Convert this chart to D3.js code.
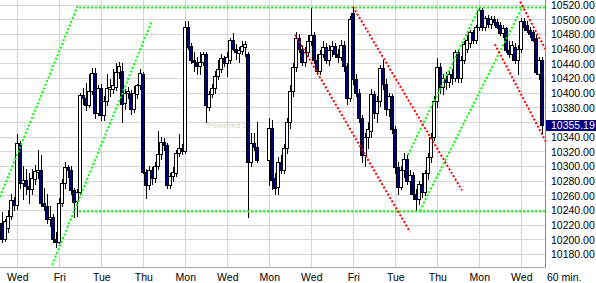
<!DOCTYPE html>
<html>
<head>
<meta charset="utf-8">
<script src="https://cdn.jsdelivr.net/npm/d3@7"></script>
<style>
  body { margin: 0; background: #fff; }
  svg { display: block; font-family: "Liberation Sans", Arial, sans-serif; }
</style>
</head>
<body>
<div id="chart"></div>
<script>
// Data - 60 min bars, null = missing bar
const opens = [
  10222,10200,10215,10232,10254,10247,10331,10277,10281,10273,
  10268,10282,10292,10294,10250,10245,10228,10230,10200,10197,
  10250,10277,10298,10294,10267,10252,10265,10397,10393,10383,
  10402,10427,10372,10406,10370,10388,10405,10405,10408,10428,
  10430,10386,10400,10400,10378,10398,10410,10425,10292,10274,
  10295,10283,10300,10316,10333,10328,10274,10286,10290,10318,
  10325,10320,10490,10464,10444,10442,10436,10442,10452,10380,
  10398,10406,10423,10432,10447,10440,10445,10472,10460,10454,
  10457,10462,10452,10305,10331,10326,null,null,null,10308,
  10352,10283,10272,10306,10295,10325,10360,10402,10435,10475,
  10460,10442,10456,10470,10478,10445,10430,10452,10462,10445,
  10458,10464,10452,10448,10465,10436,10392,10508,10418,10400,
  10365,10315,10340,10348,10398,10372,10388,10434,10412,10378,
  10395,10350,10298,10272,10295,10310,10280,10288,10262,10255,
  10275,10265,10290,10312,10340,10388,10435,10408,10420,10415,
  10426,10420,10455,10420,10445,10460,10468,10482,10472,10490,
  10512,10490,10502,10494,10500,10496,10492,10481,10488,10458,
  10452,10462,10445,10460,10498,10492,10485,10482,10474,10425,
  10444
]
const highs = [
  10237,10228,10240,10262,10258,10343,10334,10300,10296,10290,
  10296,10302,10322,10315,10270,10262,10245,10235,10210,10256,
  10282,10305,10302,10300,10270,10268,10400,10406,10413,10426,
  10433,10433,10410,10412,10395,10425,10418,10432,10440,10442,
  10440,10405,10408,10404,10409,10412,10432,10428,10296,10300,
  10298,10305,10348,10340,10338,10332,10290,10298,10322,10344,
  10330,10497,10497,10468,10455,10448,10455,10455,10455,10402,
  10412,10430,10445,10452,10450,10455,10475,10481,10466,10462,
  10470,10470,10456,10345,10345,10360,null,null,null,10365,
  10362,10290,10312,10315,10330,10365,10410,10440,10482,10480,
  10465,10462,10478,10515,10482,10452,10458,10470,10468,10465,
  10470,10468,10460,10472,10470,10440,10505,10516,10425,10405,
  10370,10345,10360,10405,10402,10395,10438,10444,10418,10400,
  10398,10355,10305,10300,10318,10315,10295,10292,10268,10280,
  10290,10295,10318,10345,10395,10447,10440,10425,10428,10430,
  10432,10458,10458,10450,10470,10478,10486,10486,10492,10516,
  10516,10505,10506,10505,10504,10500,10496,10492,10490,10470,
  10470,10468,10465,10502,10502,10498,10490,10486,10478,10448,
  10448
]
const lows = [
  10197,10198,10210,10228,10240,10242,10270,10255,10262,10250,
  10262,10276,10284,10245,10240,10222,10218,10196,10190,10195,
  10245,10270,10285,10262,10231,10232,10262,10385,10376,10380,
  10398,10365,10370,10362,10362,10383,10395,10400,10404,10420,
  10360,10378,10392,10371,10374,10392,10405,10290,10256,10268,
  10275,10278,10296,10310,10322,10270,10270,10280,10286,10314,
  10316,10318,10460,10440,10430,10425,10425,10438,10360,10376,
  10394,10400,10418,10428,10436,10422,10440,10458,10446,10442,
  10452,10450,10230,10300,10322,10305,null,null,null,10274,
  10268,10262,10262,10290,10290,10318,10352,10396,10430,10455,
  10438,10436,10450,10465,10440,10425,10425,10448,10440,10438,
  10450,10448,10442,10444,10430,10385,10388,10412,10395,10360,
  10305,10300,10325,10340,10365,10360,10382,10405,10370,10368,
  10345,10290,10262,10268,10285,10275,10262,10255,10240,10248,
  10258,10260,10282,10305,10335,10380,10400,10398,10405,10408,
  10412,10416,10415,10415,10440,10455,10462,10468,10468,10486,
  10485,10485,10490,10488,10492,10488,10478,10476,10455,10448,
  10445,10440,10425,10455,10486,10482,10476,10470,10425,10418,
  10345
]
const closes = [
  10200,10225,10232,10254,10247,10331,10277,10281,10273,10268,
  10284,10293,10295,10250,10245,10228,10231,10200,10196,10250,
  10277,10298,10294,10267,10251,10264,10397,10393,10383,10402,
  10427,10372,10406,10370,10388,10406,10407,10410,10428,10436,
  10385,10400,10402,10378,10400,10410,10427,10292,10274,10295,
  10283,10300,10316,10333,10328,10274,10286,10292,10318,10325,
  10320,10490,10462,10445,10442,10436,10442,10452,10383,10398,
  10406,10423,10432,10447,10440,10448,10472,10460,10456,10458,
  10463,10466,10305,10331,10326,10308,null,null,null,10352,
  10281,10270,10306,10295,10325,10360,10402,10435,10475,10460,
  10442,10456,10470,10478,10445,10430,10452,10462,10445,10458,
  10464,10452,10448,10465,10436,10392,10500,10418,10400,10365,
  10315,10340,10350,10398,10372,10388,10434,10412,10378,10395,
  10350,10298,10272,10295,10310,10280,10288,10262,10255,10275,
  10265,10290,10312,10340,10388,10435,10408,10420,10415,10426,
  10420,10455,10420,10445,10466,10472,10482,10472,10490,10512,
  10490,10502,10494,10500,10496,10490,10481,10488,10458,10452,
  10465,10445,10460,10498,10490,10485,10480,10472,10428,10444,
  10355.19
]

const dayTickIndex = [5, 19, 33, 47, 61, 75, 89, 103, 117, 131, 145, 159, 173]
const dayLabels = ['Wed','Fri','Tue','Thu','Mon','Wed','Mon','Wed','Fri','Tue','Thu','Mon','Wed']
const priceTicks = [10180,10200,10220,10240,10260,10280,10300,10320,10340,10360,
                    10380,10400,10420,10440,10460,10480,10500,10520]
const lastPrice = 10355.19

// trend lines: [[barIndex, price], [barIndex, price]]
const greenLines = [
  [[-0.8, 10258], [25.2, 10519]],
  [[16.6, 10165], [49.9, 10498]],
  [[25.6, 10516], [181.5, 10516]],
  [[25.6, 10238], [181.5, 10238]],
  [[135.2, 10315], [159.2, 10517]],
  [[139.2, 10239], [173.6, 10519]]
]
const redLines = [
  [[97.6, 10479], [135.9, 10210]],
  [[116.9, 10517], [153.2, 10267]],
  [[164.2, 10466], [181.2, 10333]],
  [[172.6, 10524], [181.2, 10458]]
]

// Dimensions
const dimensions = { width: 596, height: 283, axisX: 545, axisY: 267 }

const svg = d3.select('#chart')
  .append('svg')
  .attr('width', dimensions.width)
  .attr('height', dimensions.height)

// Scales
const xScale = d3.scaleLinear().domain([0, 180]).range([2.3, 542.3])
const yScale = d3.scaleLinear().domain([10180, 10520]).range([254, 4.6])

const px = v => Math.round(v) + 0.5

// grid
const grid = svg.append('g').attr('stroke', '#d6d6d6').attr('stroke-width', 1).attr('shape-rendering', 'crispEdges')
grid.selectAll('.hg').data(priceTicks).join('line')
  .attr('x1', 0).attr('x2', dimensions.axisX)
  .attr('y1', d => px(yScale(d))).attr('y2', d => px(yScale(d)))
grid.selectAll('.vg').data(dayTickIndex).join('line')
  .attr('x1', d => px(xScale(d))).attr('x2', d => px(xScale(d)))
  .attr('y1', 0).attr('y2', dimensions.axisY)

// watermark
svg.append('text')
  .attr('x', 207).attr('y', 128)
  .attr('font-size', 8).attr('font-weight', 'bold')
  .attr('fill', '#dde2cf')
  .text('Powered by')

// clip for plot
svg.append('clipPath').attr('id', 'plotclip')
  .append('rect').attr('x', 0).attr('y', 0).attr('width', dimensions.axisX + 2).attr('height', dimensions.axisY)

// candles
const bars = d3.range(opens.length).filter(i => opens[i] !== null)
const candles = svg.append('g').attr('shape-rendering', 'crispEdges')
const cg = candles.selectAll('g').data(bars).join('g')
cg.append('line')
  .attr('x1', i => Math.round(xScale(i)) + 0.5)
  .attr('x2', i => Math.round(xScale(i)) + 0.5)
  .attr('y1', i => Math.round(yScale(highs[i])))
  .attr('y2', i => Math.round(yScale(lows[i])) + 1)
  .attr('stroke', '#000')
cg.append('rect')
  .attr('x', i => Math.round(xScale(i)) - 1.5)
  .attr('width', 3)
  .attr('y', i => Math.round(yScale(Math.max(opens[i], closes[i]))) + 0.5)
  .attr('height', i => Math.max(1, Math.round(yScale(Math.min(opens[i], closes[i]))) - Math.round(yScale(Math.max(opens[i], closes[i])))))
  .attr('fill', i => closes[i] >= opens[i] ? '#fff' : '#00007f')
  .attr('stroke', '#000')

// trend lines
const lineGen = d3.line().x(d => xScale(d[0])).y(d => yScale(d[1]))
const trends = svg.append('g').attr('clip-path', 'url(#plotclip)')
trends.selectAll('.g').data(greenLines).join('path')
  .attr('d', lineGen)
  .attr('fill', 'none').attr('stroke', '#00ff00').attr('stroke-width', 2).attr('stroke-dasharray', '2,2')
trends.selectAll('.r').data(redLines).join('path')
  .attr('d', lineGen)
  .attr('fill', 'none').attr('stroke', '#ff0000').attr('stroke-width', 2).attr('stroke-dasharray', '2,2')

// axis lines
svg.append('line')
  .attr('x1', dimensions.axisX + 0.5).attr('x2', dimensions.axisX + 0.5)
  .attr('y1', 0).attr('y2', dimensions.axisY + 1)
  .attr('stroke', '#8a8a8a')
svg.append('line')
  .attr('x1', 0).attr('x2', dimensions.axisX + 1)
  .attr('y1', dimensions.axisY + 0.5).attr('y2', dimensions.axisY + 0.5)
  .attr('stroke', '#a8a8a8')

// price axis (the label under the last-price box is hidden by it, as in the original)
const yAxis = d3.axisRight(yScale)
  .tickValues(priceTicks.filter(d => Math.abs(yScale(d) - yScale(lastPrice)) > 8))
  .tickFormat(d3.format('.2f'))
  .tickSize(0)
  .tickPadding(6)
const yAxisGroup = svg.append('g')
  .attr('transform', `translate(${dimensions.axisX}, 0.5)`)
  .call(yAxis)
yAxisGroup.select('.domain').remove()
yAxisGroup.selectAll('text')
  .attr('font-family', '"Liberation Sans", Arial, sans-serif')
  .attr('font-size', 10.5).attr('fill', '#000')

// last price marker
const lp = svg.append('g')
lp.append('rect')
  .attr('x', dimensions.axisX + 1).attr('y', yScale(lastPrice) - 5.5)
  .attr('width', dimensions.width - dimensions.axisX - 1).attr('height', 11)
  .attr('fill', '#00007f')
lp.append('text')
  .attr('x', dimensions.axisX + 6).attr('y', yScale(lastPrice))
  .attr('dy', '0.34em')
  .attr('font-size', 10.5).attr('fill', '#fff')
  .text(d3.format('.2f')(lastPrice))

// time axis
const xAxis = d3.axisBottom(xScale)
  .tickValues(dayTickIndex)
  .tickFormat((d, i) => dayLabels[i])
  .tickSize(0)
  .tickPadding(7)
const xAxisGroup = svg.append('g')
  .attr('transform', `translate(0, ${dimensions.axisY})`)
  .call(xAxis)
xAxisGroup.select('.domain').remove()
xAxisGroup.selectAll('text')
  .attr('font-family', '"Liberation Sans", Arial, sans-serif')
  .attr('font-size', 10.5).attr('fill', '#000')

svg.append('text')
  .attr('x', 547).attr('y', dimensions.axisY + 7)
  .attr('dy', '0.71em')
  .attr('font-size', 10.5)
  .text('60 min.')
</script>
</body>
</html>
